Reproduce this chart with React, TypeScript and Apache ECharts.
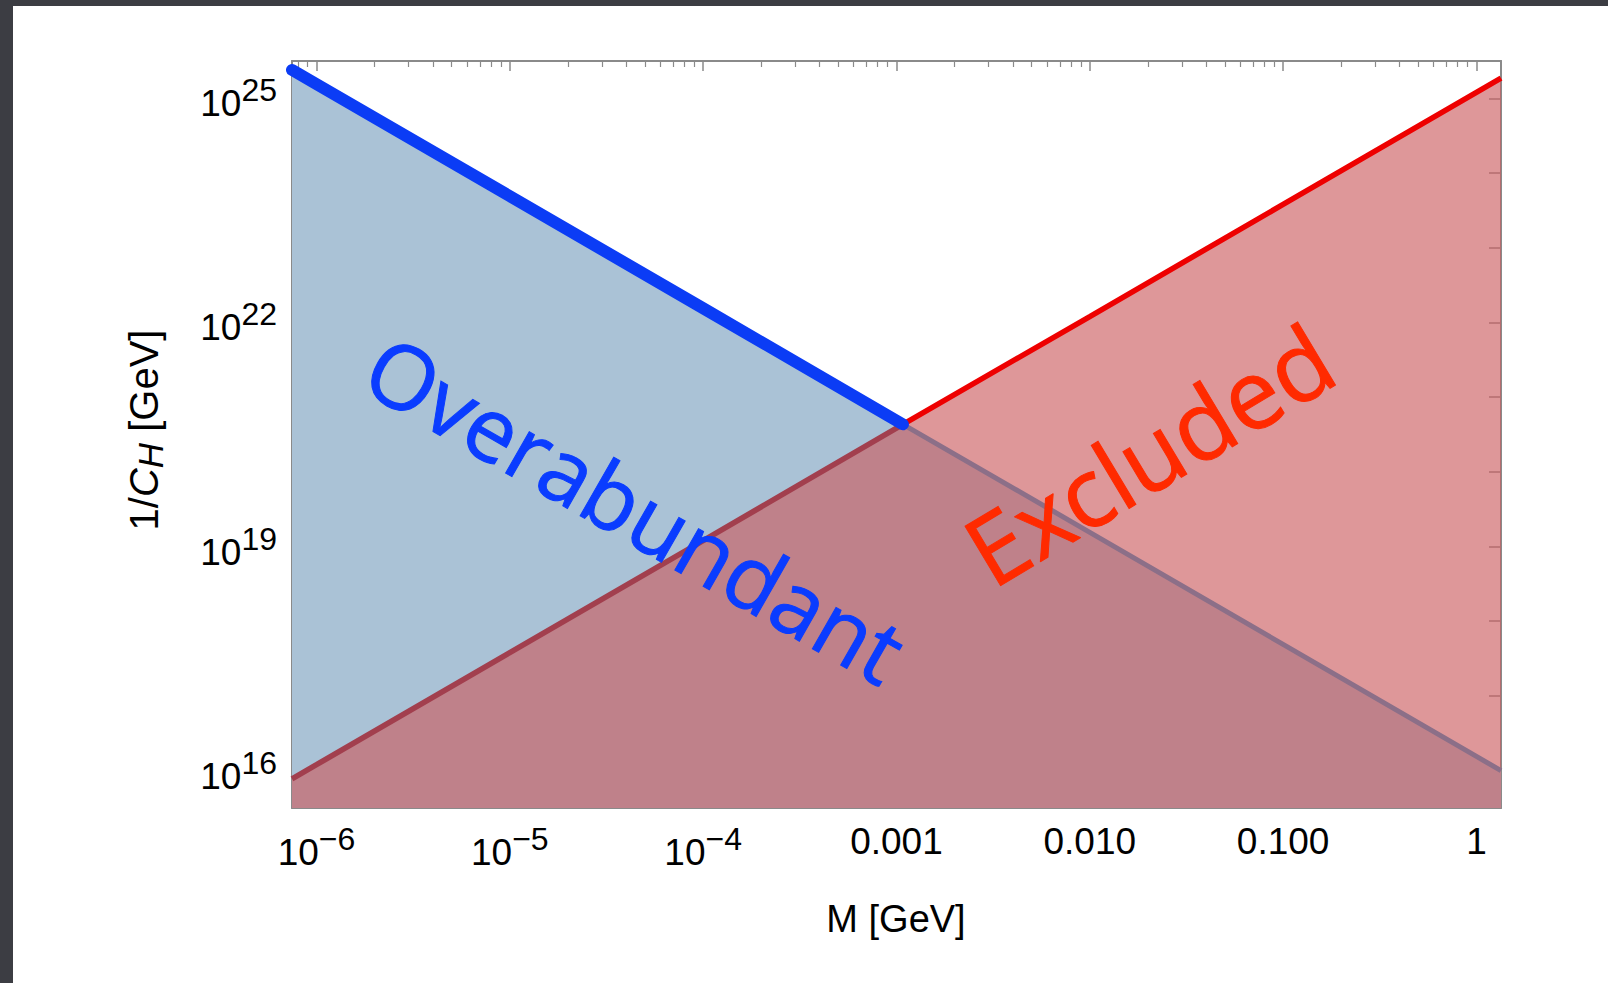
import React, { useEffect, useRef } from 'react';
import * as echarts from 'echarts';

const massGeV = [7.47e-7, 1e-6, 1e-5, 1e-4, 1.08e-3, 1e-2, 1e-1, 1, 1.34];
// Excluded boundary (red), 1/C_H in GeV
const excludedBound = [7.76e15, 1.2e16, 3.8e17, 1.2e19, 4.32e20, 1.2e22, 3.8e23, 1.2e25, 1.86e25];
// Overabundant boundary (blue), 1/C_H in GeV
const overabundantBound = [2.4e25, 1.55e25, 4.9e23, 1.55e22, 4.32e20, 1.55e19, 4.9e17, 1.55e16, 1.0e16];
// index of the crossing point of the two lines
const crossIndex = 4;

// Axis ticks and labels
const massMajorTicks = [1e-6, 1e-5, 1e-4, 1e-3, 1e-2, 1e-1, 1];
const massTickLabels = ['10^−6', '10^−5', '10^−4', '0.001', '0.010', '0.100', '1'];
const massMinorDecades = [1e-7, 1e-6, 1e-5, 1e-4, 1e-3, 1e-2, 1e-1];
const minorMultipliers = [2, 3, 4, 5, 6, 7, 8, 9];
const yDecadeTicks = [1e16, 1e17, 1e18, 1e19, 1e20, 1e21, 1e22, 1e23, 1e24, 1e25];
const yLabelTicks = [1e16, 1e19, 1e22, 1e25];
const yTickLabels = ['10^16', '10^19', '10^22', '10^25'];

const X_MIN = 7.47e-7;
const X_MAX = 1.34;
const Y_MIN = 3.16e15;
const Y_MAX = 3.16e25;

const FONT = '"Liberation Sans", Arial, Helvetica, sans-serif';
const AXIS_COLOR = '#8a8a8a';

const massMinorTicks: number[] = [];
massMinorDecades.forEach((d) => minorMultipliers.forEach((m) => {
  const v = d * m;
  if (v >= X_MIN && v <= X_MAX) massMinorTicks.push(v);
}));

const sameVal = (a: number, b: number) => Math.abs(Math.log10(a) - Math.log10(b)) < 0.01;

const toRich = (lab: string) => {
  if (lab.includes('^')) {
    const [b, e] = lab.split('^');
    return `{b|${b}}{s|${e}}`;
  }
  return `{p|${lab}}`;
};

const richStyles = {
  b: { fontSize: 37, lineHeight: 48, verticalAlign: 'bottom', fontFamily: FONT, color: '#000' },
  s: { fontSize: 32, lineHeight: 20, verticalAlign: 'top', fontFamily: FONT, color: '#000' },
  p: { fontSize: 37, lineHeight: 37, fontFamily: FONT, color: '#000' },
};

const pairs = (xs: number[], ys: number[]) => xs.map((x, i) => [x, ys[i]]);

export default function App() {
  const ref = useRef<HTMLDivElement>(null);

  useEffect(() => {
    if (!ref.current) return;
    const chart = echarts.init(ref.current, null, { renderer: 'svg' });

    const blue = pairs(massGeV, overabundantBound);
    const red = pairs(massGeV, excludedBound);

    const xBase = {
      type: 'log',
      logBase: 10,
      min: X_MIN,
      max: X_MAX,
      splitLine: { show: false },
      minorTick: { show: false },
    };
    const yBase = {
      type: 'log',
      logBase: 10,
      min: Y_MIN,
      max: Y_MAX,
      splitLine: { show: false },
      minorTick: { show: false },
    };
    const frameLine = { show: true, onZero: false, lineStyle: { color: AXIS_COLOR, width: 2 } };

    const xLabelFormatter = (v: number) => {
      const i = massMajorTicks.findIndex((t) => sameVal(t, v));
      return i >= 0 ? toRich(massTickLabels[i]) : '';
    };
    const yLabelFormatter = (v: number) => {
      const i = yLabelTicks.findIndex((t) => sameVal(t, v));
      return i >= 0 ? toRich(yTickLabels[i]) : '';
    };

    const option: any = {
      animation: false,
      backgroundColor: '#ffffff',
      grid: { left: 292, top: 61, right: 107, bottom: 175, containLabel: false },
      xAxis: [
        {
          ...xBase,
          position: 'bottom',
          axisLine: frameLine,
          axisTick: { show: true, inside: true, length: 10, customValues: massMajorTicks, lineStyle: { color: AXIS_COLOR, width: 1.5 } },
          axisLabel: { show: true, customValues: massMajorTicks, margin: 15, formatter: xLabelFormatter, rich: richStyles },
        },
        {
          ...xBase,
          position: 'bottom',
          axisLine: { show: false },
          axisTick: { show: true, inside: true, length: 6, customValues: massMinorTicks, lineStyle: { color: AXIS_COLOR, width: 1.2 } },
          axisLabel: { show: false },
        },
        {
          ...xBase,
          position: 'top',
          axisLine: frameLine,
          axisTick: { show: true, inside: true, length: 10, customValues: massMajorTicks, lineStyle: { color: AXIS_COLOR, width: 1.5 } },
          axisLabel: { show: false },
        },
        {
          ...xBase,
          position: 'top',
          axisLine: { show: false },
          axisTick: { show: true, inside: true, length: 6, customValues: massMinorTicks, lineStyle: { color: AXIS_COLOR, width: 1.2 } },
          axisLabel: { show: false },
        },
      ],
      yAxis: [
        {
          ...yBase,
          position: 'left',
          axisLine: frameLine,
          axisTick: { show: true, inside: true, length: 12, customValues: yDecadeTicks, lineStyle: { color: AXIS_COLOR, width: 1.5 } },
          axisLabel: { show: true, customValues: yLabelTicks, margin: 15, formatter: yLabelFormatter, rich: richStyles },
        },
        {
          ...yBase,
          position: 'right',
          axisLine: frameLine,
          axisTick: { show: true, inside: true, length: 12, customValues: yDecadeTicks, lineStyle: { color: AXIS_COLOR, width: 1.5 } },
          axisLabel: { show: false },
        },
      ],
      series: [
        {
          type: 'line',
          name: 'Overabundant region',
          data: blue,
          symbol: 'none',
          silent: true,
          lineStyle: { opacity: 0 },
          areaStyle: { color: '#aac2d6', opacity: 1, origin: 'start' },
          z: 1,
        },
        {
          type: 'line',
          name: 'Excluded region',
          data: red,
          symbol: 'none',
          silent: true,
          lineStyle: { opacity: 0 },
          areaStyle: { color: 'rgba(203,92,96,0.64)', opacity: 1, origin: 'start' },
          z: 2,
        },
        {
          type: 'line',
          name: 'Excluded bound (under)',
          data: red.slice(0, crossIndex + 1),
          symbol: 'none',
          silent: true,
          lineStyle: { color: '#a23f4e', width: 5.5 },
          z: 3,
        },
        {
          type: 'line',
          name: 'Overabundant bound (under)',
          data: blue.slice(crossIndex),
          symbol: 'none',
          silent: true,
          lineStyle: { color: '#8c6f88', width: 5 },
          z: 3,
        },
        {
          type: 'line',
          name: 'Excluded bound',
          data: red.slice(crossIndex),
          symbol: 'none',
          silent: true,
          lineStyle: { color: '#ee0000', width: 5.5 },
          z: 4,
        },
        {
          type: 'line',
          name: 'Overabundant bound',
          data: blue.slice(0, crossIndex + 1),
          symbol: 'none',
          silent: true,
          lineStyle: { color: '#0b3cf5', width: 12, cap: 'round' },
          z: 5,
        },
      ],
      graphic: [
        { type: 'rect', silent: true, z: 100, shape: { x: 0, y: 0, width: 1608, height: 6 }, style: { fill: '#3c3d43' } },
        { type: 'rect', silent: true, z: 100, shape: { x: 0, y: 0, width: 13, height: 983 }, style: { fill: '#3c3d43' } },
        {
          type: 'text', silent: true, z: 50, x: 896, y: 919,
          style: { text: 'M [GeV]', fill: '#000', font: `38px ${FONT}`, align: 'center', verticalAlign: 'middle' },
        },
        {
          type: 'text', silent: true, z: 50, x: 144, y: 430, rotation: Math.PI / 2,
          style: {
            text: '{n|1/}{i|C}{h|H}{n| [GeV]}',
            align: 'center', verticalAlign: 'middle',
            rich: {
              n: { fontSize: 40, lineHeight: 48, verticalAlign: 'middle', fontFamily: FONT, fill: '#000' },
              i: { fontSize: 40, lineHeight: 48, verticalAlign: 'middle', fontStyle: 'italic', fontFamily: FONT, fill: '#000' },
              h: { fontSize: 35, lineHeight: 36, verticalAlign: 'bottom', fontStyle: 'italic', fontFamily: FONT, fill: '#000' },
            },
          },
        },
        {
          type: 'text', silent: true, z: 60, x: 636, y: 508, rotation: -0.52,
          style: {
            text: 'Overabundant', fill: '#0a3cff', stroke: '#0a3cff', lineWidth: 1,
            font: `500 89px "Open Sans", "Noto Sans", sans-serif`, align: 'center', verticalAlign: 'middle',
          },
        },
        {
          type: 'text', silent: true, z: 60, x: 1148, y: 453, rotation: 0.54,
          style: {
            text: 'Excluded', fill: '#ff2a00', stroke: '#ff2a00', lineWidth: 1,
            font: `500 97px "Open Sans", "Noto Sans", sans-serif`, align: 'center', verticalAlign: 'middle',
          },
        },
      ],
    };

    chart.setOption(option);
    return () => chart.dispose();
  }, []);

  return (
    <div style={{ position: 'fixed', left: 0, top: 0, width: 1608, height: 983, background: '#ffffff' }}>
      <div ref={ref} style={{ width: 1608, height: 983 }} />
    </div>
  );
}
